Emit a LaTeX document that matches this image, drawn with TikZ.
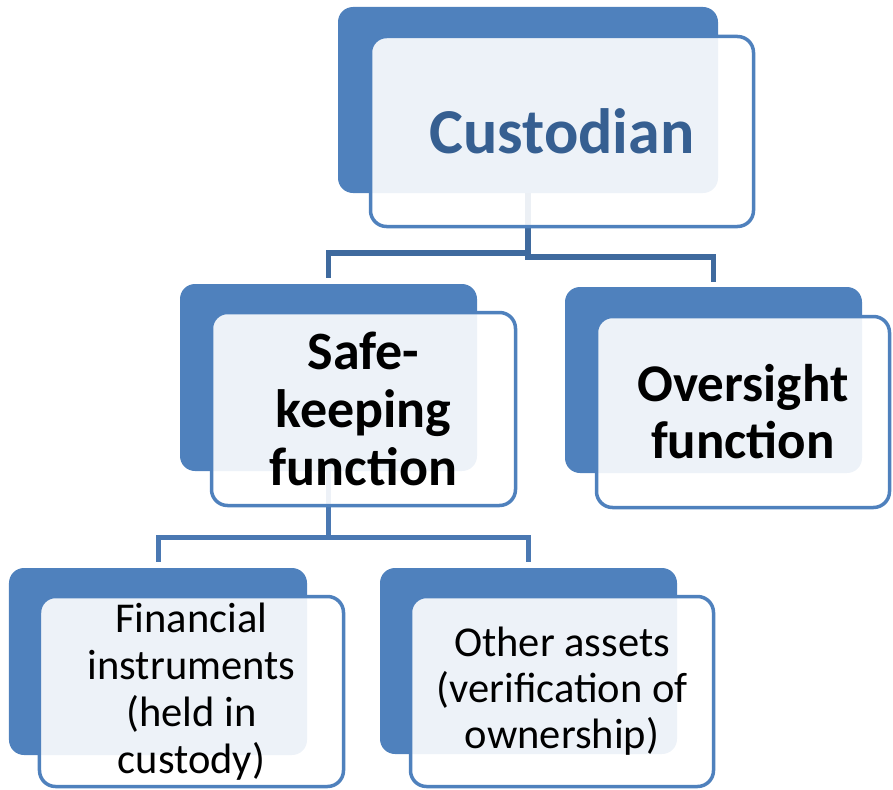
\documentclass[tikz,border=0pt]{standalone}
\usepackage{fontspec}
\setmainfont{Carlito}
\usepackage{tikz}
\usetikzlibrary{calc}
\usetikzlibrary{positioning}

\definecolor{boxblue}{HTML}{4F81BD}
\definecolor{linkdark}{HTML}{3F6A9E}
\definecolor{linkblue}{HTML}{4A78B2}
\definecolor{headblue}{HTML}{365F91}

\begin{document}
\begin{tikzpicture}[x=1bp, y=-1bp,
		backbox/.style={rectangle, rounded corners=15bp, fill=boxblue, inner sep=0pt},
		frontbox/.style={rectangle, rounded corners=16bp, draw=boxblue, line width=3.5bp, fill=white, fill opacity=0.9, text opacity=1, inner sep=0pt, align=center},
		toplink/.style={draw=linkdark, line width=5.5bp},
		link/.style={draw=linkblue, line width=5bp}]
				\useasboundingbox (0,0) rectangle (893,790);

				\node[backbox, minimum width=380bp, minimum height=186bp] (custB) at (528,100) {};
				\node[backbox, minimum width=297bp, minimum height=187bp] (safeB) at (328.5,377.5) {};
				\node[backbox, minimum width=297bp, minimum height=186bp] (overB) at (713.5,380) {};
				\node[backbox, minimum width=298bp, minimum height=187bp] (finB) at (158,661.5) {};
				\node[backbox, minimum width=297bp, minimum height=186bp] (othB) at (528.5,661) {};

				\draw[toplink] (custB.south) -- ++(0,60) -| ([yshift=6bp]safeB.north);
				\draw[toplink] (custB.south) -- ++(0,64) -| ([yshift=5bp]overB.north);
				\draw[link] (safeB.south) -- ++(0,66) -| ([yshift=6bp]finB.north);
				\draw[link] (safeB.south) -- ++(0,66) -| ([yshift=6bp]othB.north);

				\node[frontbox, minimum width=383bp, minimum height=190bp, text=headblue, font=\fontsize{64bp}{78bp}\selectfont\bfseries] (cust) at (562,131.5) {Custodian};
				\node[frontbox, minimum width=304bp, minimum height=193bp, font=\fontsize{54bp}{58bp}\selectfont\bfseries] (safe) at (363.5,409) {Safe-\\keeping\\function};
				\node[frontbox, minimum width=293bp, minimum height=191bp, font=\fontsize{53bp}{57bp}\selectfont\bfseries] (over) at (743,412) {Oversight\\function};
				\node[frontbox, minimum width=304bp, minimum height=190bp, font=\fontsize{42.5bp}{47bp}\selectfont] (fin) at (191.5,691.5) {Financial\\instruments\\(held in\\custody)};
				\node[frontbox, minimum width=303bp, minimum height=190bp, font=\fontsize{42.5bp}{46bp}\selectfont] (oth) at (562,691.5) {Other assets\\(verification of\\ownership)};
			\end{tikzpicture}
\end{document}
